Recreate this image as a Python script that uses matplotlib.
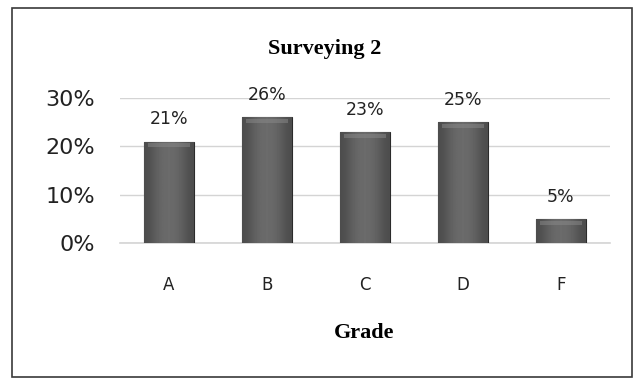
import numpy as np
import matplotlib
matplotlib.use("Agg")
from matplotlib import pyplot as plt
from matplotlib.patches import Rectangle

grades = ["A", "B", "C", "D", "F"]
shares = [0.21, 0.26, 0.23, 0.25, 0.05]
yticks = [0.0, 0.10, 0.20, 0.30]
ytick_labels = ["0%", "10%", "20%", "30%"]

fig = plt.figure(figsize=(6.39, 3.83), dpi=100)
fig.patch.set_facecolor("white")

# outer chart border
fig.patches.append(Rectangle((12/639, 6/383), 620/639, 369/383, transform=fig.transFigure,
                             fill=False, edgecolor="#3a3a3a", linewidth=1.2))

ax = fig.add_axes([120/639, 140/383, 490/639, 145/383])
x = np.arange(len(grades))
bars = ax.bar(x, shares, width=0.51, color="#4d4d4d", edgecolor="#2b2b2b", linewidth=0.8, zorder=3)

# soft shading on the bars
grad = np.array([[0.30, 0.38, 0.42, 0.42, 0.38, 0.30]])
for b in bars:
    x0, w, h = b.get_x(), b.get_width(), b.get_height()
    im = ax.imshow(grad, cmap="gray", vmin=0, vmax=1, aspect="auto",
                   extent=(x0, x0 + w, 0, h), zorder=3.5, interpolation="bicubic")
    im.set_clip_path(b)
    ax.add_patch(Rectangle((x0 + w*0.08, h - 0.012), w*0.84, 0.008,
                           facecolor="#8a8a8a", edgecolor="none", alpha=0.5, zorder=4))
    ax.annotate(f"{round(h*100)}%", (x0 + w/2, h), xytext=(0, 16), textcoords="offset points",
                ha="center", va="center", fontsize=12.5, color="#222222", zorder=5)

ax.set_xlim(-0.5, len(grades) - 0.5)
ax.set_ylim(0, 0.30)
ax.set_yticks(yticks)
ax.set_yticklabels(ytick_labels, fontsize=16, color="#222222")
ax.set_xticks(x)
ax.set_xticklabels(grades, fontsize=12, color="#222222")
ax.tick_params(axis="y", length=0, pad=18)
ax.tick_params(axis="x", length=0, pad=24)
ax.grid(axis="y", color="#d4d4d4", linewidth=1, zorder=0)
ax.axhline(0, color="#d4d4d4", linewidth=1.2, zorder=1, clip_on=False)
for s in ax.spines.values():
    s.set_visible(False)

fig.text(325/639, 1 - 49/383, "Surveying 2", ha="center", va="center",
         fontsize=16, fontweight="bold", family="Liberation Serif")
fig.text(364/639, 1 - 333/383, "Grade", ha="center", va="center",
         fontsize=16, fontweight="bold", family="Liberation Serif")

fig.savefig("out.png", dpi=100, facecolor="white")
